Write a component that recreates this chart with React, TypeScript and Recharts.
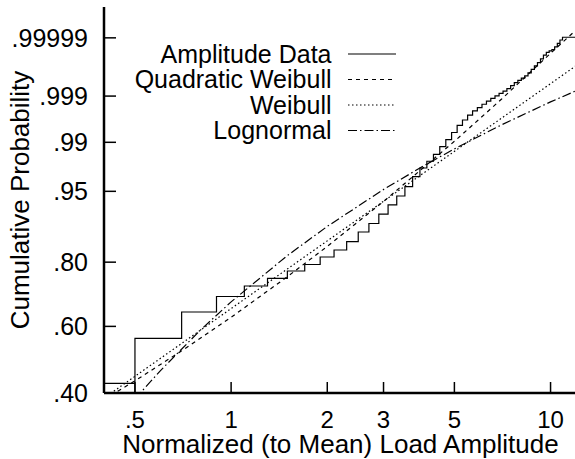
import { Legend, Line, LineChart, XAxis, YAxis } from "recharts";

// Empirical CDF of the load amplitudes (steps every 0.2 of the mean);
// the second point drops below the frame, as the original plot does at .5
const stepX = [
  0.4, 0.5, 0.5, 0.7, 0.9, 1.1, 1.3, 1.5, 1.7, 1.9, 2.1, 2.3, 2.5, 2.7, 2.9, 3.1, 3.3, 3.5,
  3.7, 3.9, 4.1, 4.3, 4.5, 4.7, 4.9, 5.1, 5.3, 5.5, 5.7, 5.9, 6.1, 6.3, 6.5, 6.7, 6.9,
  7.1, 7.3, 7.5, 7.7, 7.9, 8.1, 8.3, 8.5, 8.7, 8.9, 9.1, 9.3, 9.5, 9.7, 9.9, 10.1, 10.3,
  10.5, 10.7, 10.9, 12.1,
];
const stepP = [
  0.4266, 0.39, 0.5619, 0.6464, 0.6961, 0.7291, 0.7527, 0.7745, 0.7934, 0.8144, 0.8332,
  0.8543, 0.8772, 0.8956, 0.9138, 0.9299, 0.9436, 0.95586, 0.96684, 0.97469, 0.97975,
  0.98412, 0.98811, 0.991055, 0.993395, 0.99522, 0.996307, 0.997098, 0.99767, 0.99806,
  0.998386, 0.998647, 0.998853, 0.999012, 0.999148, 0.999263, 0.999375, 0.999487,
  0.999581, 0.999642, 0.999694, 0.999738, 0.99979, 0.9998374, 0.9998761, 0.9999056,
  0.9999305, 0.9999497, 0.9999606, 0.9999652, 0.9999694, 0.999976, 0.9999828, 0.9999876,
  0.9999906, 0.9999906,
];

// Fitted distributions
const quadX = [0.4, 0.5, 0.7, 1, 1.5, 2, 3, 5, 7, 10, 12.1];
const quadP = [
  0.3823, 0.4336, 0.5225, 0.6293, 0.7575, 0.8425, 0.93543, 0.99039, 0.998771, 0.9999569,
  0.999996,
];
const weibullX = [0.4, 1, 3, 12.1];
const weibullP = [0.3864, 0.6574, 0.93582, 0.999885];
const lognormX = [0.5, 0.6, 0.8, 1, 1.5, 2, 3, 4, 5, 7, 10, 12.1];
const lognormP = [
  0.3843, 0.4624, 0.5873, 0.679, 0.8183, 0.8895, 0.95236, 0.97633, 0.98705, 0.99529,
  0.99859, 0.9993,
];

const probTicks = [0.4, 0.6, 0.8, 0.95, 0.99, 0.999, 0.99999];
const probLabels = [".40", ".60", ".80", ".95", ".99", ".999", ".99999"];
const loadTicks = [0.5, 1, 2, 3, 5, 10];
const loadLabels = [".5", "1", "2", "3", "5", "10"];

// Weibull probability paper: y = ln(-ln(1 - p))
const weibullScale = (p: number) => Math.log(-Math.log(1 - p));

const toRows = (xs: number[], ps: number[]) =>
  xs.map((x, i) => ({ x, y: weibullScale(ps[i]) }));

const series = [
  { name: "Amplitude Data", data: toRows(stepX, stepP), type: "stepAfter", dash: undefined },
  { name: "Quadratic Weibull", data: toRows(quadX, quadP), type: "linear", dash: "4 4" },
  { name: "Weibull", data: toRows(weibullX, weibullP), type: "linear", dash: "1.5 2.5" },
  { name: "Lognormal", data: toRows(lognormX, lognormP), type: "linear", dash: "9 3 1.5 3" },
];

const FONT = '"Liberation Sans", Arial, Helvetica, sans-serif';
const X_DOMAIN = [0.4, 12.1];
const Y_DOMAIN = [weibullScale(0.4), 2.714];
const yTickValues = probTicks.map(weibullScale);

const tickLine = { stroke: "#000", strokeWidth: 1.5 };
const axisLine = { stroke: "#000", strokeWidth: 2.5 };

function LegendBox() {
  return (
    <svg width={280} height={115} style={{ fontFamily: FONT }}>
      {series.map((s, i) => {
        const y = 24 + i * 25.5;
        return (
          <g key={s.name}>
            <text x={201.5} y={y + 8.5} textAnchor="end" fontSize={25} fill="#000">
              {s.name}
            </text>
            <line
              x1={218}
              x2={266}
              y1={y}
              y2={y}
              stroke="#000"
              strokeWidth={1.2}
              strokeDasharray={s.dash}
            />
          </g>
        );
      })}
    </svg>
  );
}

export default function App() {
  return (
    <div
      style={{
        position: "absolute",
        left: 0,
        top: 0,
        width: 575,
        height: 459,
        overflow: "hidden",
        background: "#fff",
        fontFamily: FONT,
      }}>
      <LineChart width={577} height={459} margin={{ top: 7, right: 0, bottom: 0, left: 0 }}>
        <XAxis
          xAxisId="bottom"
          dataKey="x"
          type="number"
          scale="log"
          domain={X_DOMAIN}
          allowDataOverflow
          ticks={loadTicks}
          interval={0}
          tickFormatter={(v: number) => loadLabels[loadTicks.indexOf(v)] ?? String(v)}
          height={66}
          tickSize={-11}
          tickMargin={29}
          tick={{ fill: "#000", fontSize: 24 }}
          tickLine={tickLine}
          axisLine={axisLine}
          label={{
            value: "Normalized (to Mean) Load Amplitude",
            position: "insideBottom",
            offset: 6,
            fill: "#000",
            fontSize: 26,
          }}
        />
        <XAxis
          xAxisId="top"
          orientation="top"
          dataKey="x"
          type="number"
          scale="log"
          domain={X_DOMAIN}
          allowDataOverflow
          ticks={loadTicks}
          interval={0}
          height={0}
          tickSize={-12}
          tick={false}
          tickLine={tickLine}
          axisLine={axisLine}
        />
        <YAxis
          yAxisId="left"
          type="number"
          domain={Y_DOMAIN}
          allowDataOverflow
          ticks={yTickValues}
          interval={0}
          tickFormatter={(v: number, i: number) => {
            const k = yTickValues.findIndex(t => Math.abs(t - v) < 1e-9);
            return probLabels[k >= 0 ? k : i];
          }}
          width={104}
          tickSize={-12}
          tickMargin={28}
          tick={{ fill: "#000", fontSize: 25 }}
          tickLine={tickLine}
          axisLine={axisLine}
          label={{
            value: "Cumulative Probability",
            angle: -90,
            position: "insideLeft",
            offset: 20,
            textAnchor: "middle",
            fill: "#000",
            fontSize: 26,
          }}
        />
        <YAxis
          yAxisId="right"
          orientation="right"
          type="number"
          domain={Y_DOMAIN}
          allowDataOverflow
          ticks={yTickValues}
          interval={0}
          width={0}
          tickSize={-12}
          tick={false}
          tickLine={tickLine}
          axisLine={axisLine}
        />
        <Legend
          content={<LegendBox />}
          layout="horizontal"
          verticalAlign="middle"
          align="center"
          wrapperStyle={{ position: "absolute", left: 130, top: 30, width: 280, height: 115 }}
        />
        {series.map(s => (
          <Line
            key={s.name}
            name={s.name}
            data={s.data}
            dataKey="y"
            xAxisId="bottom"
            yAxisId="left"
            type={s.type as "linear" | "stepAfter"}
            stroke="#000"
            strokeWidth={1.2}
            strokeDasharray={s.dash}
            dot={false}
            activeDot={false}
            isAnimationActive={false}
          />
        ))}
      </LineChart>
    </div>
  );
}
